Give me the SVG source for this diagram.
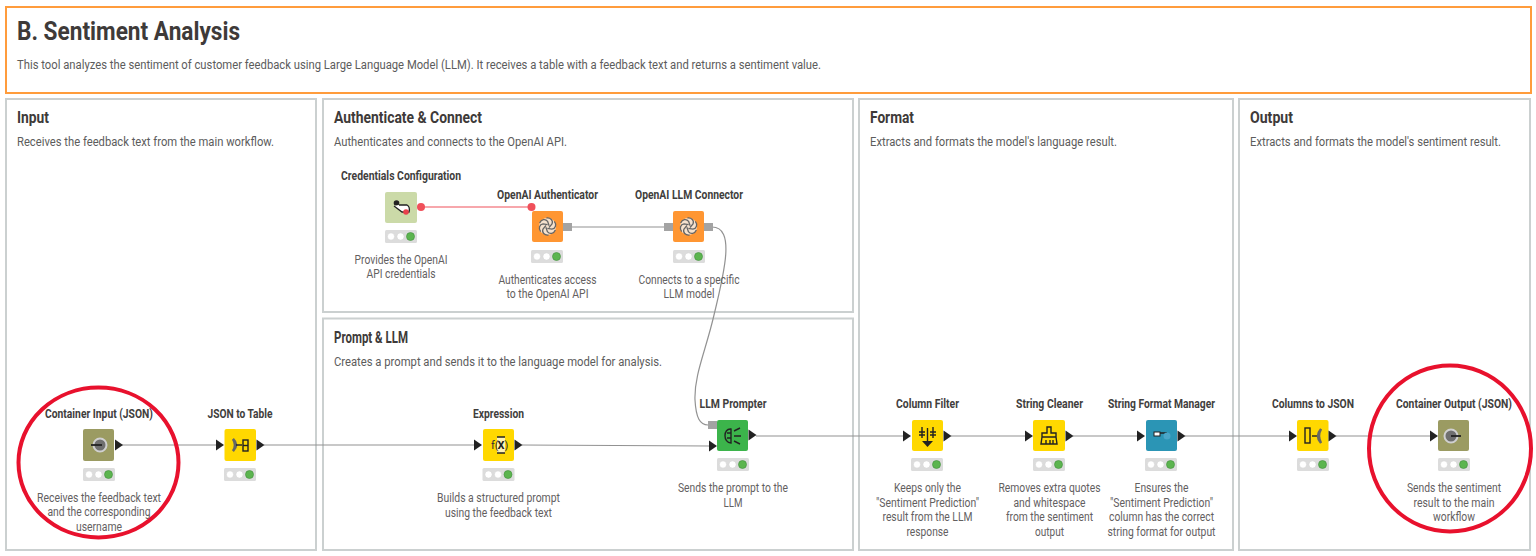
<svg xmlns="http://www.w3.org/2000/svg" width="1536" height="556" viewBox="0 0 1536 556">
<style>
text{font-family:Roboto,"Liberation Sans",sans-serif}
.p{fill:#fff;stroke:#cbd0d0;stroke-width:2}
.h1{font-size:26px;font-weight:700;fill:#3e3a39}
.h2{font-size:16px;font-weight:700;fill:#3e3a39}
.d{font-size:12.500px;fill:#5c5c5c}
.l{font-size:12.500px;font-weight:700;fill:#413e3d;text-anchor:middle}
.t{font-size:12.500px;fill:#63605f;text-anchor:middle}
.w{fill:none;stroke:#929292;stroke-width:1.200}
.ring{fill:none;stroke:#e8112d;stroke-width:4}
.ic{fill:none;stroke:#222;stroke-width:1.400}
</style>
<defs>
<g id="tl"><rect width="32" height="13" rx="1.500" fill="#dcdcdc"/><circle cx="6" cy="6.500" r="3.700" fill="#fff" stroke="#cfcfcf" stroke-width=".6"/><circle cx="15.500" cy="6.500" r="3.700" fill="#fff" stroke="#cfcfcf" stroke-width=".6"/><circle cx="25.500" cy="6.500" r="4" fill="#5cb54f" stroke="#3f8f3a" stroke-width=".6"/></g>
<path id="tri" d="M0 -5.500L8 0L0 5.500Z" fill="#222"/>
<rect id="gp" width="9" height="8" fill="#a3a3a3"/>
<g id="knot"><circle r="8.500" fill="#f4f0ea" opacity=".85"/><g fill="none" stroke="#666" stroke-width="1.300"><path id="kp" d="M-1 -8.500C3 -9 6 -6 4.500 -2.500L1.500 1"/><path d="M-1 -8.500C3 -9 6 -6 4.500 -2.500L1.500 1" transform="rotate(60)"/><path d="M-1 -8.500C3 -9 6 -6 4.500 -2.500L1.500 1" transform="rotate(120)"/><path d="M-1 -8.500C3 -9 6 -6 4.500 -2.500L1.500 1" transform="rotate(180)"/><path d="M-1 -8.500C3 -9 6 -6 4.500 -2.500L1.500 1" transform="rotate(240)"/><path d="M-1 -8.500C3 -9 6 -6 4.500 -2.500L1.500 1" transform="rotate(300)"/></g></g>
</defs>

<g id="panels">
<rect x="6" y="7" width="1525" height="86" fill="#fff" stroke="#ff9c3c" stroke-width="2"/>
<rect class="p" x="6" y="99" width="310" height="451"/>
<rect class="p" x="323" y="99" width="530" height="213"/>
<rect class="p" x="323" y="318.500" width="530" height="231.500"/>
<rect class="p" x="859" y="99" width="374" height="451"/>
<rect class="p" x="1239" y="99" width="291" height="451"/>
<text class="h1" x="17" y="40" textLength="223" lengthAdjust="spacingAndGlyphs">B. Sentiment Analysis</text>
<text class="d" x="17" y="69" textLength="804" lengthAdjust="spacingAndGlyphs">This tool analyzes the sentiment of customer feedback using Large Language Model (LLM). It receives a table with a feedback text and returns a sentiment value.</text>
<text class="h2" x="17" y="123" textLength="32" lengthAdjust="spacingAndGlyphs">Input</text>
<text class="d" x="17" y="146" textLength="257" lengthAdjust="spacingAndGlyphs">Receives the feedback text from the main workflow.</text>
<text class="h2" x="334" y="123" textLength="148" lengthAdjust="spacingAndGlyphs">Authenticate &amp; Connect</text>
<text class="d" x="334" y="146" textLength="233" lengthAdjust="spacingAndGlyphs">Authenticates and connects to the OpenAI API.</text>
<text class="h2" x="334" y="343" textLength="74" lengthAdjust="spacingAndGlyphs">Prompt &amp; LLM</text>
<text class="d" x="334" y="366" textLength="328" lengthAdjust="spacingAndGlyphs">Creates a prompt and sends it to the language model for analysis.</text>
<text class="h2" x="870" y="123" textLength="44" lengthAdjust="spacingAndGlyphs">Format</text>
<text class="d" x="870" y="146" textLength="247" lengthAdjust="spacingAndGlyphs">Extracts and formats the model's language result.</text>
<text class="h2" x="1250" y="123" textLength="43" lengthAdjust="spacingAndGlyphs">Output</text>
<text class="d" x="1250" y="146" textLength="251" lengthAdjust="spacingAndGlyphs">Extracts and formats the model's sentiment result.</text>
</g>

<g id="connectors">
<path class="w" d="M122 445H216"/>
<path class="w" d="M264 445H474"/>
<path class="w" d="M522 445L709 446"/>
<path class="w" d="M756 436L903 436"/>
<path class="w" d="M951 436H1025"/>
<path class="w" d="M1073 436H1137"/>
<path class="w" d="M1185 436H1289"/>
<path class="w" d="M1336 436H1430"/>
<path d="M421 207H531.500" fill="none" stroke="#f0505a" stroke-width="1.200"/>
<path class="w" d="M572 227H664" stroke-width="1.600"/>
<path class="w" d="M712 227C735 227 725 270 714 315C706 350 694 375 695 400C696 418 700 425 708 425"/>
</g>

<g id="container-input">
<rect x="83" y="429" width="31" height="32" rx="2" fill="#9b9b62"/>
<circle cx="100" cy="445" r="6.500" fill="#6f6f6f" stroke="#d0d0d0" stroke-width="2"/><path d="M91 445H102" stroke="#222" stroke-width="1.800"/>
<use href="#tri" x="115" y="445"/><use href="#tl" x="83" y="468"/>
<text class="l" x="99" y="418" textLength="108" lengthAdjust="spacingAndGlyphs">Container Input (JSON)</text>
<text class="t" x="99" y="502" textLength="124" lengthAdjust="spacingAndGlyphs">Receives the feedback text</text>
<text class="t" x="99" y="516" textLength="103" lengthAdjust="spacingAndGlyphs">and the corresponding</text>
<text class="t" x="99" y="531" textLength="46" lengthAdjust="spacingAndGlyphs">username</text>
</g>

<g id="json-to-table">
<rect x="224.500" y="429" width="31.500" height="32" rx="2" fill="#ffd800"/>
<path d="M233 439Q239 445 233 451Q237 445 233 439Z" fill="#666" stroke="#666" stroke-width="2.500"/><path class="ic" d="M236 445H242"/><rect class="ic" x="243" y="440" width="5" height="11"/><path class="ic" d="M243 445.500H248"/>
<use href="#tri" x="216" y="445"/><use href="#tri" x="256.500" y="445"/><use href="#tl" x="224" y="468"/>
<text class="l" x="240" y="418" textLength="65" lengthAdjust="spacingAndGlyphs">JSON to Table</text>
</g>

<g id="credentials-configuration">
<rect x="385" y="192" width="32" height="31" rx="2" fill="#cbdaa8"/>
<circle cx="396.500" cy="203" r="2.800" fill="#222"/><path d="M394 206L402 212H409C410 208 409 206 407 205H399" fill="#fff" stroke="#222" stroke-width="1.300"/><circle cx="406" cy="212" r="2.800" fill="#e8404c"/>
<circle cx="421" cy="207" r="4" fill="#f0505a"/><use href="#tl" x="385" y="230"/>
<text class="l" x="401" y="180" textLength="120" lengthAdjust="spacingAndGlyphs">Credentials Configuration</text>
<text class="t" x="401" y="264" textLength="93" lengthAdjust="spacingAndGlyphs">Provides the OpenAI</text>
<text class="t" x="401" y="278" textLength="69" lengthAdjust="spacingAndGlyphs">API credentials</text>
</g>

<g id="openai-authenticator">
<rect x="532" y="211" width="31" height="31" rx="2" fill="#ff9632"/>
<use href="#knot" x="547.500" y="226.500"/>
<circle cx="531.500" cy="207" r="4" fill="#f0505a"/><use href="#gp" x="563" y="223"/><use href="#tl" x="531" y="250"/>
<text class="l" x="547.500" y="199" textLength="101" lengthAdjust="spacingAndGlyphs">OpenAI Authenticator</text>
<text class="t" x="547.500" y="284" textLength="98" lengthAdjust="spacingAndGlyphs">Authenticates access</text>
<text class="t" x="547.500" y="298" textLength="82" lengthAdjust="spacingAndGlyphs">to the OpenAI API</text>
</g>

<g id="openai-llm-connector">
<rect x="673" y="211" width="31" height="31" rx="2" fill="#ff9632"/>
<use href="#knot" x="688.500" y="226.500"/>
<use href="#gp" x="664" y="223"/><use href="#gp" x="704" y="223"/><use href="#tl" x="673" y="250"/>
<text class="l" x="689" y="199" textLength="108" lengthAdjust="spacingAndGlyphs">OpenAI LLM Connector</text>
<text class="t" x="689" y="284" textLength="101" lengthAdjust="spacingAndGlyphs">Connects to a specific</text>
<text class="t" x="689" y="298" textLength="51" lengthAdjust="spacingAndGlyphs">LLM model</text>
</g>

<g id="expression">
<rect x="483" y="429" width="31" height="32" rx="2" fill="#ffd800"/>
<rect x="497" y="437" width="8" height="16" fill="#fff" opacity=".7"/><text x="491" y="449" font-size="11" fill="#333">f(</text><text x="501" y="449" font-size="11" font-weight="700" fill="#222" text-anchor="middle">X</text><text x="504.500" y="449" font-size="11" fill="#333">)</text><path class="ic" d="M497 437H505M497 453H505" stroke-width="1"/>
<use href="#tri" x="474" y="445"/><use href="#tri" x="514.500" y="445"/><use href="#tl" x="482.500" y="468"/>
<text class="l" x="498.500" y="418" textLength="51" lengthAdjust="spacingAndGlyphs">Expression</text>
<text class="t" x="498.500" y="502" textLength="123" lengthAdjust="spacingAndGlyphs">Builds a structured prompt</text>
<text class="t" x="498.500" y="517" textLength="107" lengthAdjust="spacingAndGlyphs">using the feedback text</text>
</g>

<g id="llm-prompter">
<rect x="717" y="420" width="31" height="31" rx="2" fill="#3cb44b"/>
<path class="ic" d="M731 429C723 428 723 443 731 443ZM727 433H731M727 438H731M734 431L740 428M734 436H741M734 441L740 444" stroke-width="1.500"/>
<use href="#gp" x="708" y="421"/><use href="#tri" x="709" y="446"/><use href="#tri" x="748.500" y="435"/><use href="#tl" x="717" y="458"/>
<text class="l" x="733" y="408" textLength="67" lengthAdjust="spacingAndGlyphs">LLM Prompter</text>
<text class="t" x="733" y="492" textLength="110" lengthAdjust="spacingAndGlyphs">Sends the prompt to the</text>
<text class="t" x="733" y="507" textLength="19" lengthAdjust="spacingAndGlyphs">LLM</text>
</g>

<g id="column-filter">
<rect x="912" y="420" width="31" height="31" rx="2" fill="#ffd800"/>
<path class="ic" d="M927.500 428V442M922 427V438M933 427V438M919 432H925M930 432H936M919 435H925M930 435H936" stroke-width="1.300"/><path d="M922 441H933L927.500 447Z" fill="#222"/>
<use href="#tri" x="903" y="436"/><use href="#tri" x="943.500" y="436"/><use href="#tl" x="911" y="458"/>
<text class="l" x="927.500" y="408" textLength="63" lengthAdjust="spacingAndGlyphs">Column Filter</text>
<text class="t" x="927.500" y="492" textLength="67" lengthAdjust="spacingAndGlyphs">Keeps only the</text>
<text class="t" x="927.500" y="507" textLength="103" lengthAdjust="spacingAndGlyphs">"Sentiment Prediction"</text>
<text class="t" x="927.500" y="521" textLength="90" lengthAdjust="spacingAndGlyphs">result from the LLM</text>
<text class="t" x="927.500" y="536" textLength="42" lengthAdjust="spacingAndGlyphs">response</text>
</g>

<g id="string-cleaner">
<rect x="1033" y="420" width="32" height="31" rx="2" fill="#ffd800"/>
<path class="ic" d="M1047 427H1051V433H1056V437H1042V433H1047ZM1042 437L1041 444H1057L1056 437M1046 440V444M1050 440V444M1053 440V444" stroke-width="1.500"/>
<use href="#tri" x="1025" y="436"/><use href="#tri" x="1065.500" y="436"/><use href="#tl" x="1033" y="458"/>
<text class="l" x="1049.500" y="408" textLength="67" lengthAdjust="spacingAndGlyphs">String Cleaner</text>
<text class="t" x="1049.500" y="492" textLength="102" lengthAdjust="spacingAndGlyphs">Removes extra quotes</text>
<text class="t" x="1049.500" y="507" textLength="72" lengthAdjust="spacingAndGlyphs">and whitespace</text>
<text class="t" x="1049.500" y="521" textLength="87" lengthAdjust="spacingAndGlyphs">from the sentiment</text>
<text class="t" x="1049.500" y="536" textLength="29" lengthAdjust="spacingAndGlyphs">output</text>
</g>

<g id="string-format-manager">
<rect x="1146" y="420" width="31" height="31" rx="2" fill="#2b95b5"/>
<rect x="1154" y="432" width="6" height="4" fill="#fff" stroke="#222" stroke-width="1"/><path d="M1160 433H1167" stroke="#222" stroke-width="1.500"/><circle cx="1167" cy="436" r="3.500" fill="#4aa6c8"/>
<use href="#tri" x="1137" y="436"/><use href="#tri" x="1177.500" y="436"/><use href="#tl" x="1145" y="458"/>
<text class="l" x="1161.500" y="408" textLength="107" lengthAdjust="spacingAndGlyphs">String Format Manager</text>
<text class="t" x="1161.500" y="492" textLength="54" lengthAdjust="spacingAndGlyphs">Ensures the</text>
<text class="t" x="1161.500" y="507" textLength="103" lengthAdjust="spacingAndGlyphs">"Sentiment Prediction"</text>
<text class="t" x="1161.500" y="521" textLength="105" lengthAdjust="spacingAndGlyphs">column has the correct</text>
<text class="t" x="1161.500" y="536" textLength="108" lengthAdjust="spacingAndGlyphs">string format for output</text>
</g>

<g id="columns-to-json">
<rect x="1297" y="420" width="31.500" height="31" rx="2" fill="#ffd800"/>
<rect class="ic" x="1305" y="428" width="5" height="15" fill="#fff"/><path class="ic" d="M1312 436H1317"/><path d="M1321 429Q1315 436 1321 443Q1317 436 1321 429Z" fill="#666" stroke="#666" stroke-width="2.500"/>
<use href="#tri" x="1289" y="436"/><use href="#tri" x="1328.500" y="436"/><use href="#tl" x="1297" y="458"/>
<text class="l" x="1313" y="408" textLength="82" lengthAdjust="spacingAndGlyphs">Columns to JSON</text>
</g>

<g id="container-output">
<rect x="1438" y="420" width="31" height="31" rx="2" fill="#9b9b62"/>
<circle cx="1451" cy="436" r="6.500" fill="#6f6f6f" stroke="#d0d0d0" stroke-width="2"/><path d="M1451 436H1461" stroke="#222" stroke-width="1.800"/>
<use href="#tri" x="1430" y="436"/><use href="#tl" x="1438" y="458"/>
<text class="l" x="1454" y="408" textLength="116" lengthAdjust="spacingAndGlyphs">Container Output (JSON)</text>
<text class="t" x="1454" y="492" textLength="94" lengthAdjust="spacingAndGlyphs">Sends the sentiment</text>
<text class="t" x="1454" y="507" textLength="81" lengthAdjust="spacingAndGlyphs">result to the main</text>
<text class="t" x="1454" y="521" textLength="42" lengthAdjust="spacingAndGlyphs">workflow</text>
</g>

<g id="highlights">
<ellipse class="ring" cx="98.500" cy="462.500" rx="80" ry="75"/>
<ellipse class="ring" cx="1450" cy="448.500" rx="81" ry="83"/>
</g>
</svg>
